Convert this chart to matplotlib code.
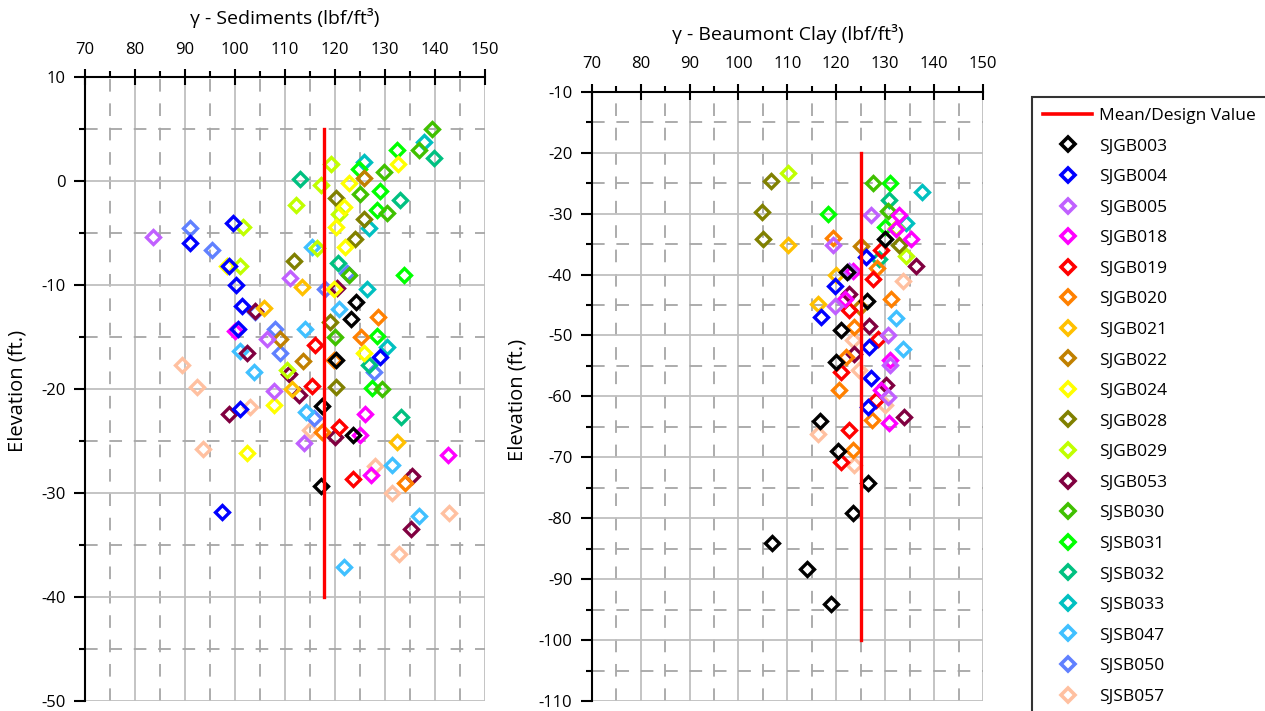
import matplotlib
matplotlib.use("Agg")
import matplotlib.pyplot as plt
from matplotlib.ticker import MultipleLocator
from matplotlib.lines import Line2D

plt.rcParams['font.family'] = ['Open Sans', 'DejaVu Sans']
plt.rcParams['axes.unicode_minus'] = False

# ---------------- data ----------------
series_names = ["SJGB003", "SJGB004", "SJGB005", "SJGB018", "SJGB019", "SJGB020",
                "SJGB021", "SJGB022", "SJGB024", "SJGB028", "SJGB029", "SJGB053",
                "SJSB030", "SJSB031", "SJSB032", "SJSB033", "SJSB047", "SJSB050", "SJSB057"]
series_colors = ["#000000", "#0000ff", "#c060ff", "#ff00ff", "#ff0000", "#ff8000",
                 "#ffc000", "#c08000", "#ffff00", "#808000", "#c0ff00", "#800040",
                 "#40c000", "#00ff00", "#00c080", "#00c0c0", "#40c0ff", "#6080ff", "#ffc0a0"]

# (unit weight, elevation) pairs - Sediments
SJGB003_sed = [(117.4, -21.6), (124.2, -11.6), (123.2, -13.3), (120.1, -17.2), (123.5, -24.4), (117.2, -29.3)]
SJGB004_sed = [(99.5, -4.0), (91, -5.95), (98.7, -8.2), (100.2, -10.0), (101.3, -12.0), (100.5, -14.2),
               (101, -21.9), (97.3, -31.8), (128.9, -16.9)]
SJGB005_sed = [(83.6, -5.4), (111, -9.3), (106.3, -15.2), (107.7, -20.2), (113.8, -25.2)]
SJGB018_sed = [(99.9, -14.4), (126, -22.4), (125, -24.4), (127.2, -28.3), (142.5, -26.3)]
SJGB019_sed = [(115.9, -15.8), (115.3, -19.7), (120.8, -23.7), (123.5, -28.7)]
SJGB020_sed = [(128.5, -13.1), (125.1, -15.0), (117.3, -24.1), (134, -29.0), (119.7, -17.2)]
SJGB021_sed = [(113.3, -10.2), (105.7, -12.2), (111.3, -20.0), (132.3, -25.1)]
SJGB022_sed = [(109, -15.2), (113.5, -17.3), (125.7, 0.3)]
SJGB024_sed = [(98.3, -8.2), (119.7, -10.4), (125.7, -16.5), (102.4, -26.2), (107.7, -21.5),
               (122.8, -0.2), (121.7, -2.5), (120.1, -4.4), (122, -6.3), (132.6, 1.6)]
SJGB028_sed = [(111.7, -7.7), (119, -13.6), (120.2, -19.8), (120.2, -1.65), (124, -5.6), (125.7, -3.7)]
SJGB029_sed = [(101.5, -4.4), (101, -8.2), (112.2, -2.3), (119.2, 1.6), (117.1, -0.4), (116.3, -6.4),
               (110.3, -18.2), (120.7, -3.2)]
SJGB053_sed = [(104, -12.5), (102.3, -16.5), (98.7, -22.4), (112.7, -20.6), (120.3, -10.3), (120, -24.6),
               (135.3, -28.4), (135.1, -33.5), (110.7, -18.6)]
SJSB030_sed = [(139.3, 5.0), (136.7, 3.0), (129.7, 0.9), (125, -1.25), (130.3, -3.1), (122.7, -9.0),
               (120, -15.0), (129.3, -20.0)]
SJSB031_sed = [(132.3, 3.0), (124.7, 1.2), (129, -1.0), (128.3, -2.8), (133.7, -9.0), (128.3, -14.9), (127.3, -19.9)]
SJSB032_sed = [(112.9, 0.2), (133, -1.8), (139.7, 2.2), (120.5, -7.9), (126.7, -17.7), (133.2, -22.7)]
SJSB033_sed = [(137.7, 3.75), (125.7, 1.85), (126.7, -4.5), (126.3, -10.4), (130.3, -16.0)]
SJSB047_sed = [(115.3, -6.3), (120.7, -12.3), (114, -14.2), (101, -16.3), (103.7, -18.4), (114.2, -22.2),
               (131.3, -27.3), (136.7, -32.2), (121.8, -37.1)]
SJSB050_sed = [(91, -4.5), (95.3, -6.6), (104, -12.6), (108, -14.2), (109, -16.5), (118, -10.4),
               (127.7, -18.4), (122.3, -8.8), (115.7, -22.8)]
SJSB057_sed = [(89.3, -17.7), (92.3, -19.8), (93.5, -25.8), (103, -21.7), (115, -23.9), (128, -27.4),
               (131.3, -30.0), (142.7, -31.9), (132.7, -35.9)]

# Beaumont Clay
SJGB003_clay = [(130, -34.2), (122.2, -39.6), (126.3, -44.3), (120.9, -49.1), (120, -54.3), (116.6, -64.1),
                (120.3, -69.0), (126.4, -74.2), (123.4, -79.1), (106.9, -84.1), (114, -88.4), (119, -94.1)]
SJGB004_clay = [(126, -37.1), (119.7, -41.9), (116.9, -47.0), (126.6, -51.9), (127, -57.0), (126.4, -61.7)]
SJGB005_clay = [(127.1, -30.2), (119.3, -35.2), (119.7, -45.1), (130.5, -50.0), (130.9, -54.9),
                (130.5, -60.1), (122.7, -39.4)]
SJGB018_clay = [(132.8, -30.3), (132.2, -32.5), (135.3, -34.2), (121.7, -44.0), (130.9, -54.1),
                (129.2, -59.0), (130.7, -64.4), (123.4, -39.4)]
SJGB019_clay = [(129.2, -35.9), (127.5, -40.8), (122.7, -45.8), (128.5, -50.6), (121, -56.0),
                (122.7, -65.5), (121, -70.7), (128.2, -60.6)]
SJGB020_clay = [(119.3, -34.0), (128.3, -38.9), (131.2, -44.0), (123.7, -48.6), (122, -53.5),
                (120.5, -59.0), (127.4, -63.9), (123.4, -68.8)]
SJGB021_clay = [(110.1, -35.1), (116.3, -44.8), (120, -40.0)]
SJGB022_clay = [(125.1, -35.3), (124.8, -45.4)]
SJGB024_clay = []
SJGB028_clay = [(106.7, -24.7), (104.9, -29.8), (105, -34.1), (132.9, -35.2)]
SJGB029_clay = [(110.1, -23.4), (134.3, -37.0), (132.2, -32.3)]
SJGB053_clay = [(136.3, -38.6), (122.7, -43.2), (126.7, -48.4), (123.7, -53.0), (130.2, -58.2), (133.8, -63.3)]
SJSB030_clay = [(127.5, -25.0), (130.5, -29.6)]
SJSB031_clay = [(130.9, -25.0), (118.3, -30.0), (129.9, -32.2)]
SJSB032_clay = [(130.7, -27.7), (128.8, -37.5)]
SJSB033_clay = [(137.5, -26.4), (134.3, -31.5)]
SJSB047_clay = [(132.2, -47.2), (133.7, -52.2)]
SJSB050_clay = []
SJSB057_clay = [(133.7, -41.0), (123.4, -50.8), (124.6, -55.7), (129.9, -61.4), (116.2, -66.1), (123.7, -71.2)]

sed_data = [SJGB003_sed, SJGB004_sed, SJGB005_sed, SJGB018_sed, SJGB019_sed, SJGB020_sed,
            SJGB021_sed, SJGB022_sed, SJGB024_sed, SJGB028_sed, SJGB029_sed, SJGB053_sed,
            SJSB030_sed, SJSB031_sed, SJSB032_sed, SJSB033_sed, SJSB047_sed, SJSB050_sed, SJSB057_sed]
clay_data = [SJGB003_clay, SJGB004_clay, SJGB005_clay, SJGB018_clay, SJGB019_clay, SJGB020_clay,
             SJGB021_clay, SJGB022_clay, SJGB024_clay, SJGB028_clay, SJGB029_clay, SJGB053_clay,
             SJSB030_clay, SJSB031_clay, SJSB032_clay, SJSB033_clay, SJSB047_clay, SJSB050_clay, SJSB057_clay]

# Mean / design values: (value, top elevation, bottom elevation)
sed_mean = 117.7
sed_mean_range = [5, -40]
clay_mean = 125.0
clay_mean_range = [-20, -100]

sed_title = "γ - Sediments (lbf/ft³)"
clay_title = "γ - Beaumont Clay (lbf/ft³)"
ylabel = "Elevation (ft.)"
mean_label = "Mean/Design Value"

# ---------------- figure ----------------
W, H = 1265, 711
fig = plt.figure(figsize=(W / 100, H / 100), dpi=100)
axL = fig.add_axes([85 / W, 10 / H, 400 / W, 624 / H])
axR = fig.add_axes([591.7 / W, 10 / H, 391.3 / W, 609.2 / H])

MS, MEW = 7.2, 2.4


def style(ax, ylim, title):
    ax.set_xlim(70, 150)
    ax.set_ylim(*ylim)
    ax.xaxis.set_major_locator(MultipleLocator(10))
    ax.xaxis.set_minor_locator(MultipleLocator(5))
    ax.yaxis.set_major_locator(MultipleLocator(10))
    ax.yaxis.set_minor_locator(MultipleLocator(5))
    ax.xaxis.tick_top()
    ax.grid(which='major', color='#bfbfbf', lw=1.3, ls='-')
    ax.grid(which='minor', color='#a6a6a6', lw=1.3, ls=(0, (7, 6.5)))
    ax.set_axisbelow(True)
    for s in ['right', 'bottom']:
        ax.spines[s].set_visible(False)
    for s in ['left', 'top']:
        ax.spines[s].set_linewidth(1.5)
        ax.spines[s].set_color('black')
    ax.tick_params(axis='x', which='major', direction='inout', length=12, width=1.5,
                   pad=8, labelsize=12, top=True, bottom=False)
    ax.tick_params(axis='x', which='minor', direction='out', length=4, width=1.5, top=True, bottom=False)
    ax.tick_params(axis='y', which='major', direction='out', length=8, width=1.5, pad=6, labelsize=12)
    ax.tick_params(axis='y', which='minor', direction='out', length=4, width=1.5)
    ax.text(0.5, 1.095, title, transform=ax.transAxes, ha='center', va='center', fontsize=14)


style(axL, (-50, 10), sed_title)
style(axR, (-110, -10), clay_title)
fig.text(18 / W, 1 - 391 / H, ylabel, rotation=90, ha='center', va='center', fontsize=14.5)
fig.text(517 / W, 1 - 400 / H, ylabel, rotation=90, ha='center', va='center', fontsize=14.5)

n = len(series_names)
for i, (name, col) in enumerate(zip(series_names, series_colors)):
    z = 10 + (n - i)
    pts = sed_data[i]
    axL.plot([p[0] for p in pts], [p[1] for p in pts], ls='none', marker='D', ms=MS,
             mfc='none', mec=col, mew=MEW, zorder=z, label=name)
    pts = clay_data[i]
    if pts:
        axR.plot([p[0] for p in pts], [p[1] for p in pts], ls='none', marker='D', ms=MS,
                 mfc='none', mec=col, mew=MEW, zorder=z)

axL.plot([sed_mean, sed_mean], sed_mean_range, color='red', lw=2.4, zorder=40)
axR.plot([clay_mean, clay_mean], clay_mean_range, color='red', lw=2.4, zorder=40)

leg_handles = [Line2D([0], [0], color='red', lw=2.6)] + [
    Line2D([0], [0], ls='none', marker='D', ms=7, mfc='none', mec=c, mew=2.6) for c in series_colors]
leg_labels = [mean_label] + series_names
leg = fig.legend(leg_handles, leg_labels, loc='upper left', bbox_to_anchor=(1032 / W, 1 - 97 / H),
                 frameon=True, fancybox=False, edgecolor='black', fontsize=12.5,
                 labelspacing=0.83, handlelength=2.85, handletextpad=0.4, borderpad=0.62,
                 borderaxespad=0)
leg.get_frame().set_linewidth(1.5)

fig.savefig("out.png", dpi=100)
